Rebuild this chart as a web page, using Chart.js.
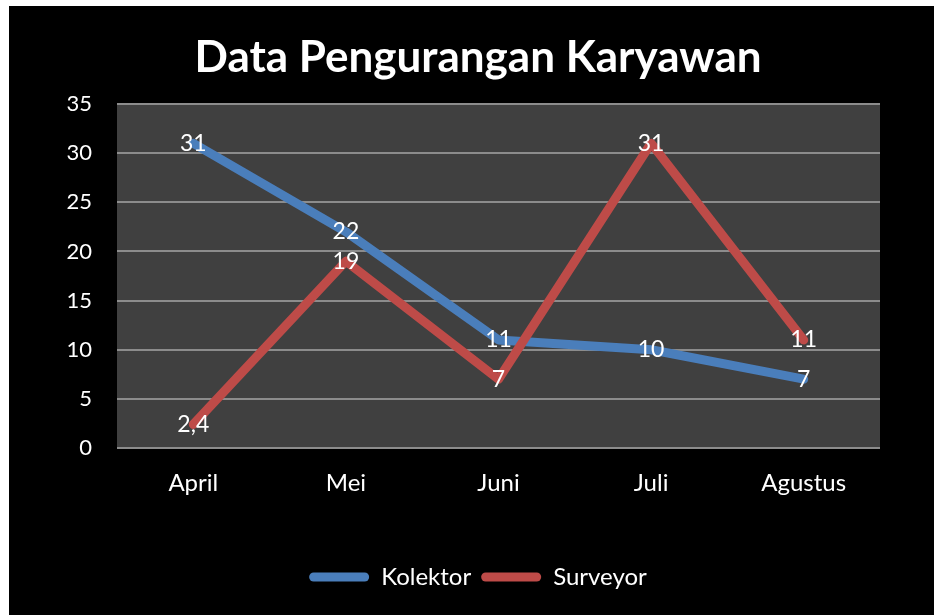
<!DOCTYPE html>
<html>
<head>
<meta charset="utf-8">
<script src="https://cdn.jsdelivr.net/npm/chart.js@4"></script>
<style>
  html, body { margin: 0; padding: 0; background: #fff; }
  #wrap { position: absolute; left: 9px; top: 6px; width: 925px; height: 609px; background: #000; }
</style>
</head>
<body>
<div id="wrap"><canvas id="myChart"></canvas></div>
<script>
// data
const months = ['April', 'Mei', 'Juni', 'Juli', 'Agustus'];
const kolektor = [31, 22, 11, 10, 7];
const surveyor = [2.4, 19, 7, 31, 11];
const yTicks = [0, 5, 10, 15, 20, 25, 30, 35];

const FONT = 'Lato, "Open Sans", sans-serif';

// plot area background
const plotBg = {
  id: 'plotBg',
  beforeDraw(chart) {
    const a = chart.chartArea, c = chart.ctx;
    c.save();
    c.fillStyle = '#404040';
    c.fillRect(a.left, a.top, a.right - a.left, a.bottom - a.top);
    c.restore();
  }
};

// title and legend are centred a bit right of the canvas middle
const centreShift = {
  id: 'centreShift',
  afterLayout(chart) {
    [chart.titleBlock, chart.legend].forEach(b => {
      if (b) { b.left = 67; b.right = 871; }
    });
  }
};

// value labels centered on each point
const valueLabels = {
  id: 'valueLabels',
  afterDatasetsDraw(chart) {
    const c = chart.ctx;
    c.save();
    c.font = '23px ' + FONT;
    c.fillStyle = '#fff';
    c.textAlign = 'center';
    c.textBaseline = 'middle';
    chart.data.datasets.forEach((ds, i) => {
      chart.getDatasetMeta(i).data.forEach((pt, j) => {
        c.fillText(String(ds.data[j]).replace('.', ','), pt.x, pt.y);
      });
    });
    c.restore();
  }
};

new Chart(document.getElementById('myChart'), {
  type: 'line',
  data: {
    labels: months,
    datasets: [{
      label: 'Kolektor',
      data: kolektor,
      borderColor: '#4a7ebb',
      backgroundColor: '#4a7ebb',
      order: 1
    }, {
      label: 'Surveyor',
      data: surveyor,
      borderColor: '#be4b48',
      backgroundColor: '#be4b48',
      order: 0
    }]
  },
  options: {
    responsive: true,
    maintainAspectRatio: false,
    animation: false,
    layout: { padding: { left: 0, right: 54, top: 0, bottom: 16 } },
    elements: {
      line: { borderWidth: 9, tension: 0, borderCapStyle: 'round', borderJoinStyle: 'round' },
      point: { radius: 0, hoverRadius: 0 }
    },
    scales: {
      x: {
        offset: true,
        grid: { display: false, drawTicks: false },
        border: { display: false },
        ticks: { color: '#fff', font: { family: FONT, size: 24 }, padding: 21 },
        afterFit(s) { s.height = 107; }
      },
      y: {
        min: 0,
        max: 35,
        afterBuildTicks(s) { s.ticks = yTicks.map(v => ({ value: v })); },
        grid: { color: '#8c8c8c', lineWidth: 2, drawTicks: false },
        border: { display: false },
        ticks: { color: '#fff', font: { family: FONT, size: 22 }, padding: 25 },
        afterFit(s) { s.width = 108; }
      }
    },
    plugins: {
      title: {
        display: true,
        text: 'Data Pengurangan Karyawan',
        color: '#fff',
        font: { family: FONT, size: 44, weight: 'bold', lineHeight: 1.2 },
        padding: { top: 25, bottom: 20.2 }
      },
      legend: {
        position: 'bottom',
        labels: {
          color: '#fff',
          font: { family: FONT, size: 24 },
          boxWidth: 60,
          boxHeight: 9,
          useBorderRadius: true,
          borderRadius: 4.5,
          padding: 10,
          sort: (a, b) => a.datasetIndex - b.datasetIndex,
          generateLabels(chart) {
            return Chart.defaults.plugins.legend.labels.generateLabels(chart)
              .map(item => Object.assign(item, { lineWidth: 0 }));
          }
        }
      },
      tooltip: { enabled: false }
    }
  },
  plugins: [plotBg, centreShift, valueLabels]
});
</script>
</body>
</html>
